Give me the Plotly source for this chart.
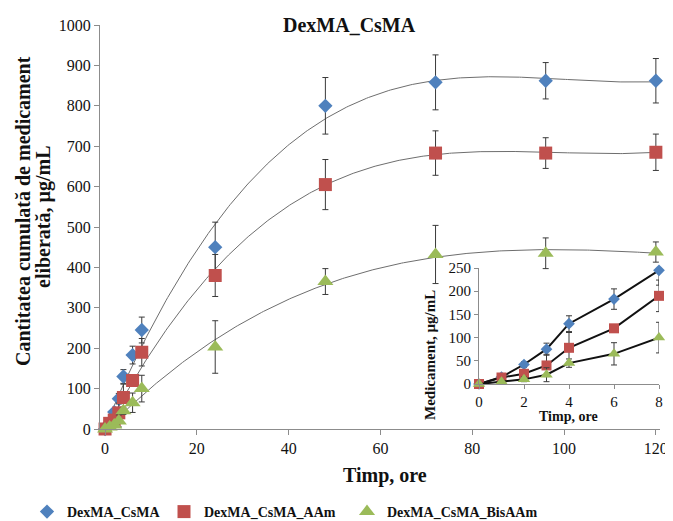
import numpy as np
import plotly.graph_objects as go

# ---- data ----
time_h = [0, 1, 2, 3, 4, 6, 8, 24, 48, 72, 96, 120]
dex_csma = [0, 15, 42, 75, 130, 183, 245, 450, 800, 858, 862, 862]
dex_csma_err = [0, 5, 6, 13, 17, 22, 32, 62, 70, 68, 45, 55]
dex_csma_aam = [0, 14, 22, 40, 78, 120, 190, 380, 605, 683, 683, 685]
dex_csma_aam_err = [0, 4, 6, 24, 33, 8, 34, 52, 62, 55, 38, 45]
dex_csma_bis = [0, 5, 10, 20, 45, 65, 100, 203, 365, 432, 435, 438]
dex_csma_bis_err = [0, 3, 5, 15, 9, 24, 33, 65, 32, 72, 38, 25]

names = ["DexMA_CsMA", "DexMA_CsMA_AAm", "DexMA_CsMA_BisAAm"]
colors = ["#4F81BD", "#C0504D", "#9BBB59"]
symbols = ["diamond", "square", "triangle-up"]
main_sizes = [11, 13, 14]
inset_sizes = [9, 10, 11]

main_xticks = [0, 20, 40, 60, 80, 100, 120]
main_yticks = list(range(0, 1001, 100))
inset_xticks = [0, 2, 4, 6, 8]
inset_yticks = [0, 50, 100, 150, 200, 250]
inset_n = 7  # first 7 time points (0..8 h)

# the page body has an 8px margin; the figure is sized to fill the rest
PAGE_OFF = 8
W, H = 673 - PAGE_OFF, 521 - PAGE_OFF
FONT = "Liberation Serif, Times New Roman, serif"


def fx(px):
    return (px - PAGE_OFF) / W


def fy(py):
    return (H - (py - PAGE_OFF)) / H


series = [
    (dex_csma, dex_csma_err),
    (dex_csma_aam, dex_csma_aam_err),
    (dex_csma_bis, dex_csma_bis_err),
]

fig = go.Figure()
tfit = np.linspace(0, 120, 300)

for i, (vals, err) in enumerate(series):
    coef = np.polyfit(time_h, vals, 3)
    fig.add_trace(go.Scatter(
        x=tfit, y=np.polyval(coef, tfit), mode="lines",
        line=dict(color="#6e6e6e", width=1), showlegend=False,
        hoverinfo="skip", xaxis="x", yaxis="y"))

for i, (vals, err) in enumerate(series):
    fig.add_trace(go.Scatter(
        x=time_h, y=vals, mode="markers", name="<b>" + names[i] + "</b>",
        marker=dict(symbol=symbols[i], size=main_sizes[i], color=colors[i]),
        error_y=dict(type="data", array=err, visible=True, color="#3a3a3a",
                     thickness=1, width=3),
        cliponaxis=False, xaxis="x", yaxis="y",
        legend=["legend", "legend2", "legend3"][i]))

for i, (vals, err) in enumerate(series):
    fig.add_trace(go.Scatter(
        x=time_h[:inset_n], y=vals[:inset_n], mode="lines+markers",
        line=dict(color="#111111", width=2),
        marker=dict(symbol=symbols[i], size=inset_sizes[i], color=colors[i]),
        error_y=dict(type="data", array=err[:inset_n], visible=True,
                     color="#3a3a3a", thickness=1, width=3),
        cliponaxis=False, showlegend=False, xaxis="x2", yaxis="y2"))

axis_gray = "#8c8c8c"
tickfont_main = dict(family=FONT, size=16, color="#111111")
tickfont_inset = dict(family=FONT, size=15, color="#111111")

legend_common = dict(orientation="h", yanchor="middle", y=fy(512), xanchor="left",
                     font=dict(family=FONT, size=14, color="#111111"),
                     bgcolor="rgba(0,0,0,0)", itemwidth=30)


def text_ann(text, px, py, size, angle=0):
    return dict(text=text, x=fx(px), y=fy(py), xref="paper", yref="paper",
                showarrow=False, textangle=angle,
                font=dict(family=FONT, size=size, color="#111111"),
                xanchor="center", yanchor="middle")


fig.update_layout(
    width=W, height=H,
    font=dict(family=FONT, color="#111111"),
    margin=dict(l=0, r=0, t=0, b=0, autoexpand=False),
    paper_bgcolor="white", plot_bgcolor="rgba(0,0,0,0)",
    showlegend=True,
    xaxis=dict(domain=[fx(100), fx(660)], range=[-1.1, 120.9],
               tickvals=main_xticks, ticks="outside", ticklen=5, tickcolor=axis_gray,
               showline=True, linecolor=axis_gray, linewidth=1, showgrid=False,
               zeroline=False, tickfont=tickfont_main, anchor="y", automargin=False),
    yaxis=dict(domain=[fy(429), fy(25)], range=[0, 1000],
               tickvals=main_yticks, ticks="outside", ticklen=5, tickcolor=axis_gray,
               showline=True, linecolor=axis_gray, linewidth=1, showgrid=False,
               zeroline=False, tickfont=tickfont_main, anchor="x", automargin=False),
    xaxis2=dict(domain=[fx(479), fx(659)], range=[0, 8],
                tickvals=inset_xticks, ticks="outside", ticklen=4, tickcolor=axis_gray,
                showline=True, linecolor=axis_gray, linewidth=1, showgrid=False,
                zeroline=False, tickfont=tickfont_inset, anchor="y2", automargin=False),
    yaxis2=dict(domain=[fy(384), fy(268)], range=[0, 250],
                tickvals=inset_yticks, ticks="outside", ticklen=4, tickcolor=axis_gray,
                showline=True, linecolor=axis_gray, linewidth=1, showgrid=False,
                zeroline=False, tickfont=tickfont_inset, anchor="x2", automargin=False),
    legend=dict(legend_common, x=fx(27)),
    legend2=dict(legend_common, x=fx(164)),
    legend3=dict(legend_common, x=fx(347)),
    annotations=[
        text_ann("<b>DexMA_CsMA</b>", 349, 25, 20),
        text_ann("<b>Timp, ore</b>", 385, 475, 20),
        text_ann("<b>Cantitatea cumulată de medicament</b>", 23, 211, 20, -90),
        text_ann("<b>eliberată, µg/mL</b>", 43, 217, 20, -90),
        text_ann("<b>Timp, ore</b>", 568, 416, 14),
        text_ann("<b>Medicament, µg/mL</b>", 430, 355, 15, -90),
    ],
)

fig.write_html("out.html", post_script="document.body.style.overflow='hidden';")
